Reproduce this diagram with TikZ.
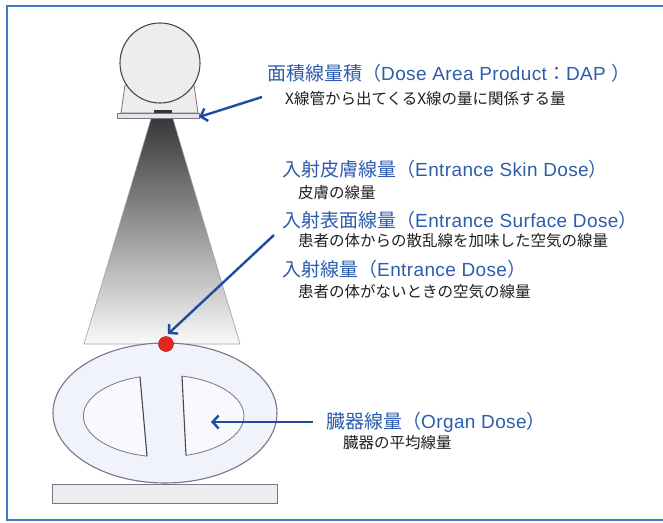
\documentclass[tikz,border=0pt]{standalone}
\usepackage{fontspec}
\usetikzlibrary{arrows.meta}
\newfontfamily\jpfont{Noto Sans CJK JP}
\newfontfamily\latfont{Liberation Sans}[LetterSpace=2.0]
\definecolor{frameblue}{RGB}{62,122,200}
\definecolor{headblue}{RGB}{45,92,172}
\definecolor{arrowblue}{RGB}{30,76,160}
\definecolor{edgegray}{RGB}{128,112,140}
\definecolor{darkedge}{RGB}{80,64,90}
\definecolor{bodyfill}{RGB}{240,243,249}
\definecolor{organfill}{RGB}{248,249,252}
\definecolor{dotred}{RGB}{226,40,30}
\tikzset{
  head/.style={anchor=west, inner sep=0pt, text=headblue,
    font=\jpfont\fontsize{19}{21}\selectfont},
  sub/.style={anchor=west, inner sep=0pt, text=black!88,
    font=\jpfont\fontsize{15.5}{17}\selectfont},
  pointer/.style={draw=arrowblue, line width=2.4pt,
    -{Straight Barb[length=6pt,width=13pt,line width=2.4pt]}},
  device/.style={fill=black!7, draw=edgegray, line width=0.8pt},
}
\begin{document}
\begin{tikzpicture}[x=1pt, y=-1pt]
\useasboundingbox (0,0) rectangle (663,522);

% frame
\draw[frameblue, line width=1.5pt] (664,6) -- (7,6) -- (7,520) -- (664,520);

% x-ray tube housing
\draw[device] (125,85) -- (194,85) -- (198,113) -- (121,113) -- cycle;
\draw[fill=black!7, draw=darkedge, line width=1.1pt] (160,63) circle[radius=40];
\fill[black!80] (154,110) rectangle (172,114);
\draw[fill=black!10, draw=edgegray, line width=0.8pt] (117,113) rectangle (199,118);

% beam cone
\shade[top color=black!78, bottom color=black!2]
  (151,119) -- (173,119) -- (240,344) -- (84,344) -- cycle;
\draw[edgegray!70, line width=0.6pt]
  (151,119) -- (84,344) -- (240,344) -- (173,119);

% patient body
\draw[fill=bodyfill, draw=edgegray, line width=1.1pt] (165,413) ellipse[x radius=112, y radius=70];
\begin{scope}
  \clip (0,300) -- (133.2,300) -- (153.5,530) -- (0,530) -- cycle;
  \draw[fill=organfill, draw=edgegray, line width=0.8pt] (163.7,416) ellipse[x radius=80.3, y radius=41];
\end{scope}
\draw[darkedge, line width=1.1pt] (140,376.8) -- (147,456.1);
\begin{scope}
  \clip (178.2,300) -- (400,300) -- (400,530) -- (189.8,530) -- cycle;
  \draw[fill=organfill, draw=edgegray, line width=0.8pt] (163.7,416) ellipse[x radius=80.3, y radius=41];
\end{scope}
\draw[darkedge, line width=1.1pt] (182,376.1) -- (186,455.3);

% table
\draw[fill=black!7, draw=edgegray, line width=1pt] (52,484) rectangle (277,503);

% entrance point
\node[circle, fill=dotred, draw=dotred!75!black, line width=0.5pt, minimum size=15pt, inner sep=0pt] (dot) at (166,344) {};

% labels
\node[head] (dap) at (267,73) {面積線量積（{\latfont Dose Area Product}：{\latfont DAP }）};
\node[sub] (dapsub) at (285,99) {X線管から出てくるX線の量に関係する量};

\node[head] (esd) at (282,169) {入射皮膚線量（{\latfont Entrance Skin Dose}）};
\node[sub] (esdsub) at (298,193) {皮膚の線量};

\node[head] (surf) at (282,220) {入射表面線量（{\latfont Entrance Surface Dose}）};
\node[sub] (surfsub) at (298,241) {患者の体からの散乱線を加味した空気の線量};

\node[head] (ent) at (282,269) {入射線量（{\latfont Entrance Dose}）};
\node[sub] (entsub) at (298,292) {患者の体がないときの空気の線量};

\node[head] (organ) at (326,422) {臓器線量（{\latfont Organ Dose}）};
\node[sub] (organsub) at (343,443) {臓器の平均線量};

% pointers
\coordinate (dapfrom) at (262,97);
\coordinate (dapto) at (199,117);
\coordinate (entfrom) at (274,235);
\coordinate (entto) at (168,334);
\coordinate (organfrom) at (313,422);
\coordinate (organto) at (211,422);
\draw[pointer] (dapfrom) -- (dapto);
\draw[pointer] (entfrom) -- (entto);
\draw[pointer] (organfrom) -- (organto);
\end{tikzpicture}
\end{document}
